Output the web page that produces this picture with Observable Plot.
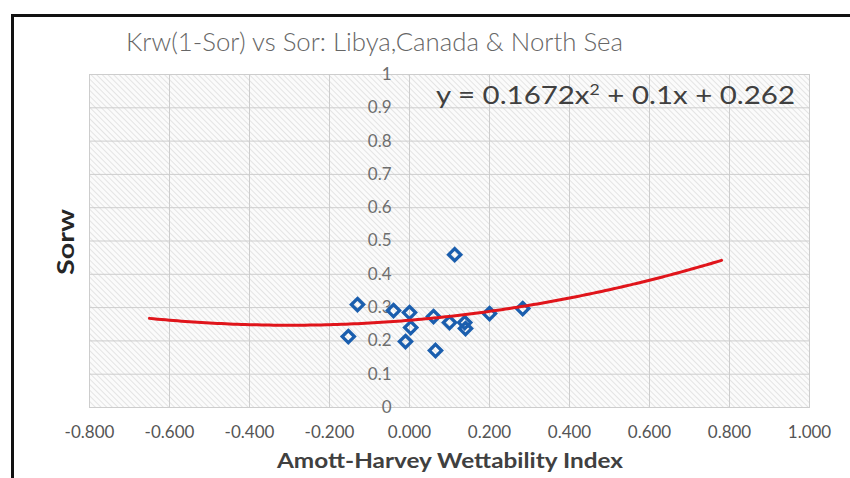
<!DOCTYPE html>
<html>
<head>
<meta charset="utf-8">
<script src="https://cdn.jsdelivr.net/npm/d3@7"></script>
<script src="https://cdn.jsdelivr.net/npm/@observablehq/plot@0.6"></script>
<style>
  html, body { margin: 0; padding: 0; background: #fff; }
  #chart { position: relative; width: 850px; height: 478px; overflow: hidden; background: #fff; }
  #chart svg { position: absolute; left: 0; top: 0; background: transparent; }
  #box { position: absolute; left: 11px; top: 14px; width: 1000px; height: 1000px;
         border: 3px solid #111; pointer-events: none; }
</style>
</head>
<body>
<div id="chart"><div id="box"></div></div>
<script>
// Amott-Harvey wettability index vs residual oil saturation (Sorw)
const wettability = [-0.153, -0.130, -0.040, 0.000, 0.003, -0.010, 0.060, 0.065, 0.100, 0.138, 0.140, 0.113, 0.200, 0.283];
const sorw        = [ 0.213,  0.309,  0.291, 0.285, 0.240,  0.198, 0.273, 0.171, 0.255, 0.255, 0.237, 0.459, 0.282, 0.297];

// Quadratic trendline y = a x^2 + b x + c and the x span it covers
const fitCoef  = [0.1672, 0.1, 0.262];
const fitRange = [-0.65, 0.78];

// Axis ticks
const xTicks = [-0.8, -0.6, -0.4, -0.2, 0, 0.2, 0.4, 0.6, 0.8, 1.0];
const yTicks = [0, 0.1, 0.2, 0.3, 0.4, 0.5, 0.6, 0.7, 0.8, 0.9, 1];
const yTickLabels = ["0", "0.1", "0.2", "0.3", "0.4", "0.5", "0.6", "0.7", "0.8", "0.9", "1"];

const points = wettability.map((x, i) => ({x, y: sorw[i]}));
const [a, b, c] = fitCoef;
const fitX = d3.range(fitRange[0], fitRange[1] + 1e-9, 0.01);
const fitLine = fitX.map(x => ({x, y: a * x * x + b * x + c}));

const font = "Lato, 'Open Sans', sans-serif";

const plot = Plot.plot({
  width: 850,
  height: 478,
  marginLeft: 89,
  marginRight: 41,
  marginTop: 74,
  marginBottom: 71,
  style: {fontFamily: font, background: "transparent", overflow: "visible"},
  x: {domain: [-0.8, 1.0], axis: null},
  y: {domain: [0, 1], axis: null},
  marks: [
    Plot.frame({fill: "url(#hatch)", stroke: "#cfcfcf"}),
    Plot.ruleX(xTicks, {stroke: "#cdcdcd", strokeWidth: 1}),
    Plot.ruleY(yTicks, {stroke: "#cdcdcd", strokeWidth: 1}),
    Plot.text(xTicks, {
      x: d => d, frameAnchor: "bottom", dy: 30,
      text: d => d.toFixed(3),
      fontSize: 17, fill: "#555"
    }),
    Plot.text(yTicks, {
      x: () => 0, y: d => d, dx: -18, textAnchor: "end",
      text: (d, i) => yTickLabels[i],
      fontSize: 17, fill: "#6e6e6e"
    }),
    Plot.dot(points, {
      x: "x", y: "y", symbol: d3.symbolDiamond2, r: 5.5,
      stroke: "#1a5eae", strokeWidth: 3.3, fill: "none"
    }),
    Plot.line(fitLine, {x: "x", y: "y", stroke: "#e0151b", strokeWidth: 3, curve: "linear"})
  ]
});

const svg = d3.select(plot);

// diagonal hatch used as the plot-area fill
const pat = svg.insert("defs", ":first-child").append("pattern")
  .attr("id", "hatch")
  .attr("patternUnits", "userSpaceOnUse")
  .attr("width", 4).attr("height", 4)
  .attr("patternTransform", "rotate(45)");
pat.append("rect").attr("width", 4).attr("height", 4).attr("fill", "#fbfbfb");
pat.append("line").attr("x1", 0).attr("y1", 0).attr("x2", 4).attr("y2", 0)
  .attr("stroke", "#d6d6d6").attr("stroke-width", 1.2);

function addText(x, y, str, opts) {
  const t = svg.append("text")
    .attr("x", x).attr("y", y)
    .attr("font-family", font)
    .attr("font-size", opts.size)
    .attr("font-weight", opts.weight || 400)
    .attr("fill", opts.fill)
    .attr("text-anchor", opts.anchor || "start");
  if (opts.len) t.attr("textLength", opts.len).attr("lengthAdjust", "spacingAndGlyphs");
  if (opts.transform) t.attr("transform", opts.transform);
  if (typeof str === "string") t.text(str);
  else str(t);
  return t;
}

// chart title
addText(126, 51, "Krw(1-Sor) vs Sor: Libya,Canada & North Sea",
  {size: 25, weight: 300, fill: "#666", len: 497});

// trendline equation
addText(436, 104, t => {
  t.append("tspan").text(`y = ${a}x`);
  t.append("tspan").attr("dy", -9).attr("font-size", 15).text("2");
  t.append("tspan").attr("dy", 9).text(` + ${b}x + ${c}`);
}, {size: 25, fill: "#404040", len: 359});

// axis titles
addText(450, 468, "Amott-Harvey Wettability Index",
  {size: 21, weight: 700, fill: "#404040", anchor: "middle", len: 346});
addText(0, 0, "Sorw",
  {size: 23, weight: 700, fill: "#262626", anchor: "middle", len: 66,
   transform: "translate(74,242) rotate(-90)"});

document.getElementById("chart").insertBefore(plot, document.getElementById("box"));
</script>
</body>
</html>
